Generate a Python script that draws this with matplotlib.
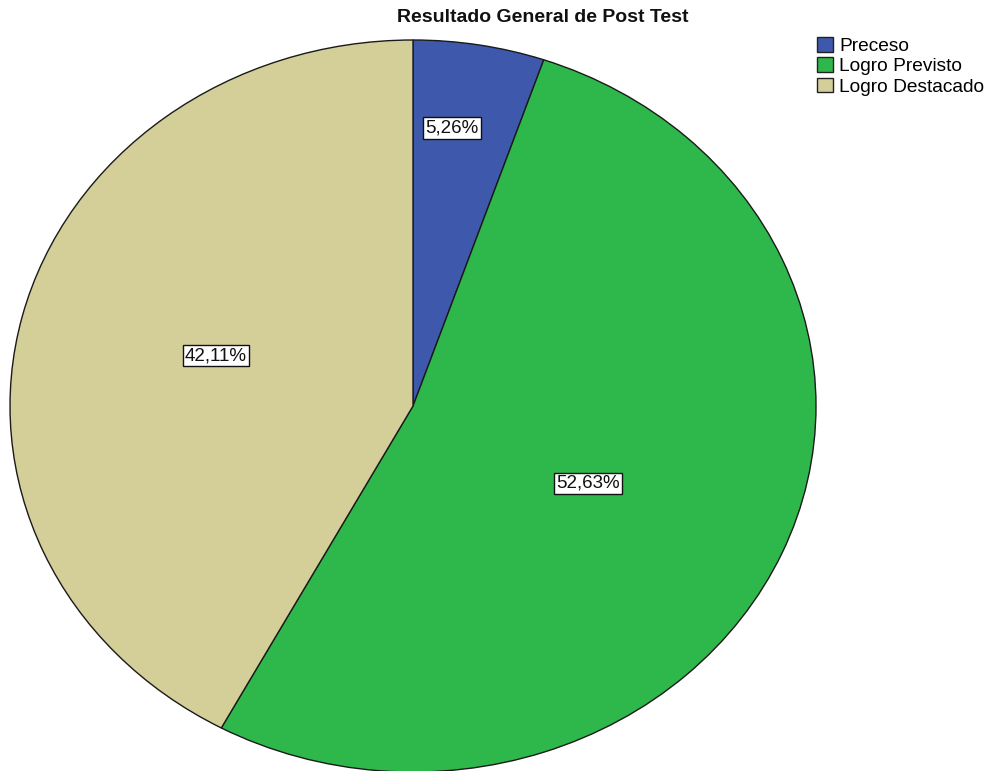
import matplotlib
matplotlib.use("Agg")
import matplotlib.pyplot as plt
import numpy as np
from matplotlib.patches import Patch

title = "Resultado General de Post Test"
categories = ["Preceso", "Logro Previsto", "Logro Destacado"]
values = [5.26, 52.63, 42.11]
pct_labels = ["5,26%", "52,63%", "42,11%"]
colors = ["#3e58ac", "#2eb84b", "#d4ce98"]
# label placement: radius fraction and angle shift (deg) from wedge middle
label_radius = [0.766, 0.483, 0.508]
label_shift = [2.2, -2.3, -1.5]

plt.rcParams['font.family'] = ['Liberation Sans', 'DejaVu Sans']

W, H = 988, 771
fig = plt.figure(figsize=(W / 100, H / 100), dpi=100)
# pie ellipse: x 10..816, y 40..772 (pixels from top)
ax = fig.add_axes([10 / W, (H - 772) / H, 806 / W, 732 / H])
wedges, _ = ax.pie(values, colors=colors, startangle=90, counterclock=False,
                   radius=1.0, wedgeprops=dict(edgecolor="#1a1a1a", linewidth=1.0))
ax.set_aspect('auto')
ax.set_xlim(-1, 1)
ax.set_ylim(-1, 1)
ax.axis('off')

for w, lab, r, s in zip(wedges, pct_labels, label_radius, label_shift):
    ang = np.deg2rad((w.theta1 + w.theta2) / 2 + s)
    ax.text(r * np.cos(ang), r * np.sin(ang), lab, ha='center', va='center',
            fontsize=13.5, color='#111111',
            bbox=dict(boxstyle='square,pad=0.12', facecolor='white',
                      edgecolor='#111111', linewidth=1.0))

fig.text(543 / W, 1 - 18 / H, title, ha='center', va='center',
         fontsize=14, fontweight='bold', color='#111111')

handles = [Patch(facecolor=c, edgecolor='#222222', linewidth=1.0) for c in colors]
fig.legend(handles, categories, loc='upper left', bbox_to_anchor=(817 / W, 1 - 37 / H),
           frameon=False, fontsize=13.8, handlelength=0.85, handleheight=0.8,
           handletextpad=0.3, labelspacing=0.12, borderaxespad=0, borderpad=0)

fig.savefig("out.png", dpi=100)
